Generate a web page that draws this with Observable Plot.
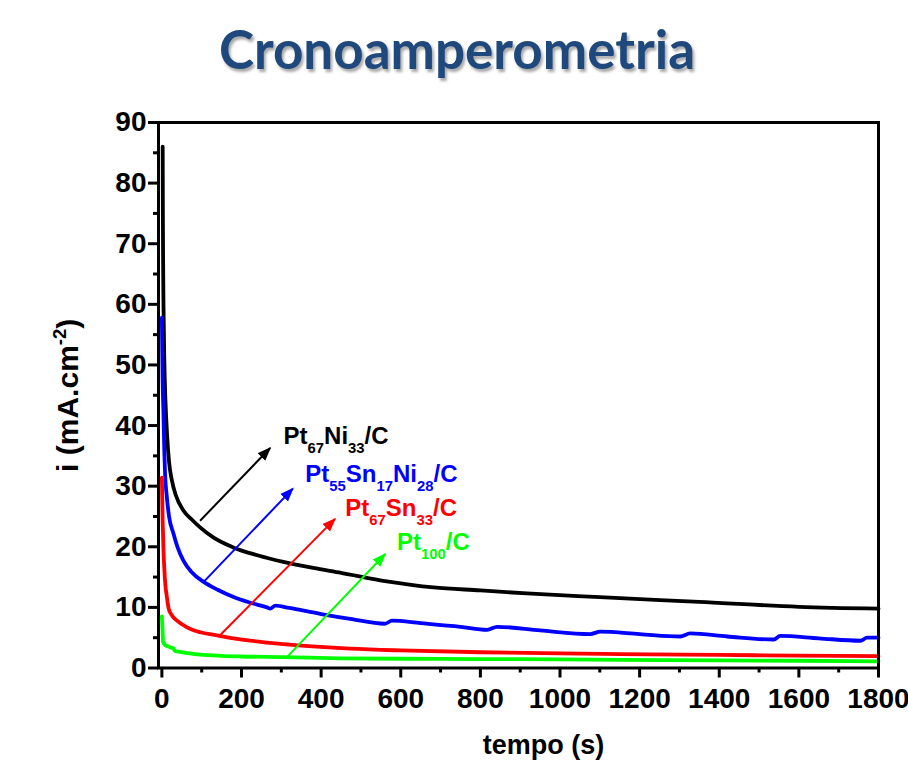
<!DOCTYPE html>
<html><head><meta charset="utf-8">
<script src="https://cdn.jsdelivr.net/npm/d3@7"></script>
<script src="https://cdn.jsdelivr.net/npm/@observablehq/plot@0.6"></script>
<style>
body{margin:0;background:#fff;}
#title{position:relative;height:100px;width:908px;}
#title span{position:absolute;left:3px;width:908px;top:22px;text-align:center;font:700 53px Lato,"Open Sans",sans-serif;line-height:53px;color:#1F497D;text-shadow:2px 3px 3px rgba(0,0,0,0.35);}
</style></head>
<body>
<div id="title"><span>Cronoamperometria</span></div>
<div id="chart"></div>
<script>
// ---- data ----
const seriesNames = ["Pt67Ni33/C", "Pt55Sn17Ni28/C", "Pt67Sn33/C", "Pt100/C"];
const seriesColors = ["#000000", "#0000ff", "#ff0000", "#00ff00"];

const tBlack = [2,2.5,3,4,6,9,13,18,25,35,54,75,96,130,179,240,305,380,450,565,682,800,917,1100,1350,1600,1800];
const iBlack = [86,75,68,60,51,44,38.5,34,31,28.5,26,24.5,23.2,21.5,19.9,18.6,17.5,16.5,15.7,14.3,13.3,12.8,12.3,11.7,10.9,10.1,9.8];

const tBlue = [0,1,2,4,6,8,12,18,29,40,54,75,105,140,180,220,264,272,285,320,400,473,560,578,650,750,817,842,950,1076,1101,1200,1302,1327,1420,1537,1553,1650,1755,1771,1800];
const iBlue = [57.8,52,47,42,36,32,28.5,25,22.2,19.8,17.7,15.8,14.2,12.9,11.7,10.8,10.0,9.8,10.3,9.9,8.9,8.1,7.3,7.8,7.4,6.8,6.3,6.8,6.2,5.6,6.0,5.6,5.2,5.7,5.2,4.7,5.3,4.9,4.5,5.0,5.0];

const tRed = [0,2,4,6,9,12,17,25,38,63,96,138,180,222,264,350,473,600,800,1000,1150,1400,1600,1800];
const iRed = [31.4,24,19.5,16.5,13.5,12,9.8,8.7,7.8,6.7,5.9,5.4,4.9,4.5,4.2,3.7,3.2,2.9,2.6,2.4,2.3,2.15,2.05,1.95];

const tGreen = [0,1.5,3,8,15,21,28,33,50,70,96,150,200,305,450,700,900,1152,1400,1600,1800];
const iGreen = [8.5,6.5,4.3,3.8,3.6,3.4,3.3,2.8,2.6,2.4,2.2,2.0,1.9,1.8,1.6,1.5,1.45,1.35,1.25,1.2,1.1];

// annotation arrows (data coordinates) and labels
const arrowX1 = [96, 105, 146, 314];
const arrowY1 = [24.3, 14.2, 5.4, 1.8];
const arrowX2 = [272, 329, 435, 561];
const arrowY2 = [36.3, 29.6, 24.6, 18.8];
const labelText = ["Pt_{67}Ni_{33}/C", "Pt_{55}Sn_{17}Ni_{28}/C", "Pt_{67}Sn_{33}/C", "Pt_{100}/C"];
const labelX = [305.5, 360, 460.5, 590.5];
const labelY = [37.0, 30.7, 25.0, 19.5];

const yMajor = [0,10,20,30,40,50,60,70,80,90];
const yMinor = [5,15,25,35,45,55,65,75,85];
const xMajor = [0,200,400,600,800,1000,1200,1400,1600,1800];
const xMinor = [100,300,500,700,900,1100,1300,1500,1700];

const xTitle = "tempo (s)";
const yTitle = "i (mA.cm^{-2})";

// ---- build ----
const allT = [tBlack, tBlue, tRed, tGreen];
const allI = [iBlack, iBlue, iRed, iGreen];
const series = allT.map((ts, k) => ts.map((t, j) => ({t, i: allI[k][j]})));

function filledHead(color, context) {
  const doc = (context && context.document) || document;
  const ns = "http://www.w3.org/2000/svg";
  const m = doc.createElementNS(ns, "marker");
  m.setAttribute("viewBox", "0 -5 10 10");
  m.setAttribute("refX", "9");
  m.setAttribute("refY", "0");
  m.setAttribute("markerUnits", "userSpaceOnUse");
  m.setAttribute("markerWidth", "14");
  m.setAttribute("markerHeight", "14");
  m.setAttribute("orient", "auto");
  const p = doc.createElementNS(ns, "path");
  p.setAttribute("d", "M0,-3.8L10,0L0,3.8Z");
  p.setAttribute("fill", color);
  p.setAttribute("stroke", "none");
  m.appendChild(p);
  return m;
}

const marks = [];
marks.push(Plot.axisY({ticks: yMajor, tickSize: 10, tickPadding: 2, strokeWidth: 3, label: null, tickFormat: d => `${d}`}));
marks.push(Plot.axisY({ticks: yMinor, tickSize: 5, strokeWidth: 3, text: null, label: null}));
marks.push(Plot.axisX({ticks: xMajor, tickSize: 10, tickPadding: 10, strokeWidth: 3, label: null, tickFormat: d => `${d}`}));
marks.push(Plot.axisX({ticks: xMinor, tickSize: 5, strokeWidth: 3, text: null, label: null}));
series.forEach((s, k) => {
  marks.push(Plot.line(s, {x: "t", y: "i", stroke: seriesColors[k], strokeWidth: 3.8, curve: "monotone-x"}));
});
arrowX1.forEach((_, k) => {
  marks.push(Plot.link([k], {x1: i => arrowX1[i], y1: i => arrowY1[i], x2: i => arrowX2[i], y2: i => arrowY2[i],
    stroke: seriesColors[k], strokeWidth: 2, markerEnd: filledHead}));
});
labelText.forEach((_, k) => {
  marks.push(Plot.text([k], {x: i => labelX[i], y: i => labelY[i], text: i => labelText[i],
    fill: seriesColors[k], textAnchor: "start", lineAnchor: "bottom", fontSize: 24, fontWeight: "bold", className: "rich"}));
});
marks.push(Plot.text([xTitle], {text: d => d, frameAnchor: "bottom", dx: 25, dy: 86, lineAnchor: "bottom", fontSize: 27, fontWeight: "bold"}));
marks.push(Plot.text([yTitle], {text: d => d, frameAnchor: "left", dx: -90, rotate: -90, textAnchor: "middle", lineAnchor: "middle", fontSize: 30, fontWeight: "bold", className: "rich"}));
marks.push(Plot.frame({stroke: "black", strokeWidth: 3}));

const plot = Plot.plot({
  width: 908, height: 670,
  marginTop: 22, marginBottom: 102.5, marginLeft: 158, marginRight: 30,
  style: {fontFamily: "'Liberation Sans', Arial, sans-serif", fontWeight: "bold", fontSize: "28px", color: "black", background: "white", overflow: "visible"},
  x: {domain: [-8.5, 1800]},
  y: {domain: [0, 90]},
  marks
});

// rich text: _{..} subscript, ^{..} superscript
const NS = "http://www.w3.org/2000/svg";
d3.select(plot).selectAll("g.rich text").each(function() {
  const el = this;
  const fs = parseFloat(el.getAttribute("font-size") || el.parentNode.getAttribute("font-size") || 24);
  const parts = el.textContent.split(/(_\{[^}]*\}|\^\{[^}]*\})/).filter(p => p);
  el.textContent = "";
  let shift = 0;
  for (const p of parts) {
    const ts = document.createElementNS(NS, "tspan");
    let target = 0, txt = p, small = false;
    if (p.startsWith("_{")) { target = fs * 0.37; txt = p.slice(2, -1); small = true; }
    else if (p.startsWith("^{")) { target = -fs * 0.42; txt = p.slice(2, -1); small = true; }
    if (target - shift !== 0) ts.setAttribute("dy", target - shift);
    shift = target;
    if (small) ts.setAttribute("font-size", fs * 0.62);
    ts.textContent = txt;
    el.appendChild(ts);
  }
});

document.getElementById("chart").appendChild(plot);
</script>
</body></html>
